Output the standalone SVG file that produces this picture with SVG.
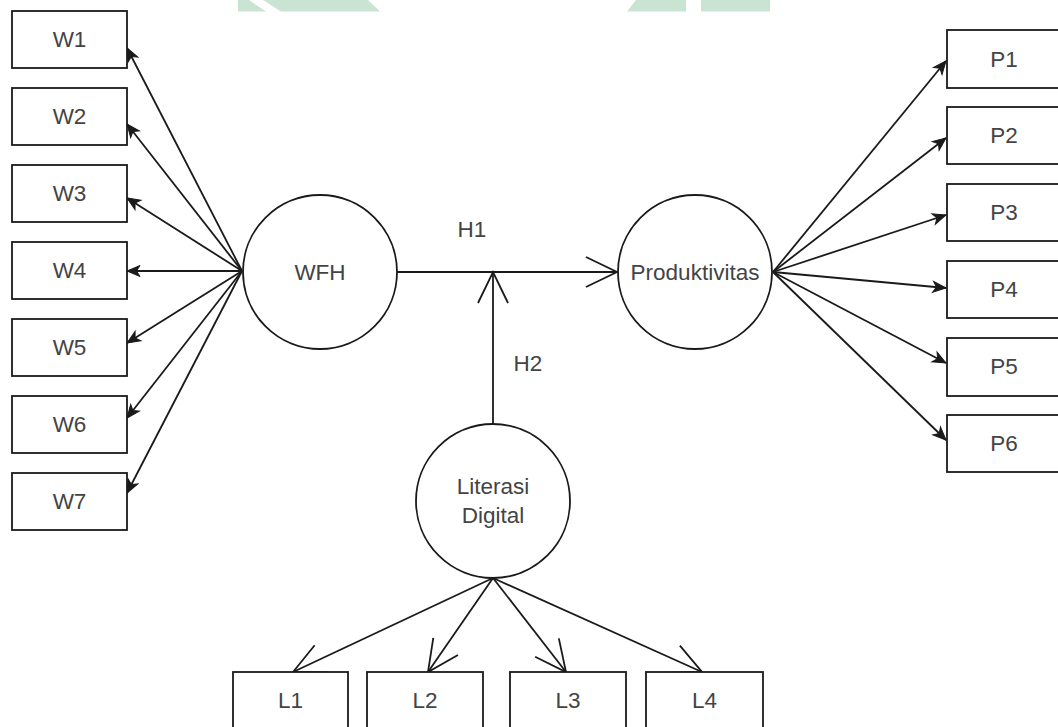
<svg xmlns="http://www.w3.org/2000/svg" width="1058" height="727" viewBox="0 0 1058 727">
  <style>
    .box { fill: #ffffff; stroke: #1a1a1a; stroke-width: 1.8; }
    .circ { fill: #ffffff; stroke: #1a1a1a; stroke-width: 1.8; }
    .lbl { font-family: "Liberation Sans", Arial, sans-serif; font-size: 22.5px; fill: #444444; text-anchor: middle; }
    .edge { stroke: #1a1a1a; stroke-width: 1.8; fill: none; }
    .fill-arrow { marker-end: url(#classic); }
    .open-arrow { marker-end: url(#open); }
    .wm { fill: #c9e4d3; }
  </style>
  <defs>
    <marker id="classic" markerUnits="userSpaceOnUse" orient="auto" refX="0" refY="0" markerWidth="20" markerHeight="20" overflow="visible">
      <path d="M0,0 L-13,-5.5 L-9.5,0 L-13,5.5 Z" fill="#1a1a1a" stroke="#1a1a1a" stroke-width="1"/>
    </marker>
    <marker id="open" markerUnits="userSpaceOnUse" orient="auto" refX="0" refY="0" markerWidth="40" markerHeight="40" overflow="visible">
      <path d="M-31,-15 L0,0 L-31,15" fill="none" stroke="#1a1a1a" stroke-width="1.8"/>
    </marker>
  </defs>

  <rect width="1058" height="727" fill="#ffffff"/>

  <!-- faint watermark remnants at the top edge -->
  <g id="watermark">
    <polygon class="wm" points="238,0 249,0 266,11.5 238,11.5"/>
    <polygon class="wm" points="263,0 368,0 380,11.5 281,11.5"/>
    <polygon class="wm" points="636,0 686,0 686,11.5 627,11.5"/>
    <rect class="wm" x="701" y="0" width="69" height="11.5"/>
  </g>

  <g id="connectors">
    <!-- WFH to W indicators -->
    <line class="edge fill-arrow" x1="242" y1="271" x2="127" y2="48"/>
    <line class="edge fill-arrow" x1="242" y1="271" x2="127" y2="124"/>
    <line class="edge fill-arrow" x1="242" y1="271" x2="127" y2="198"/>
    <line class="edge fill-arrow" x1="242" y1="271" x2="127" y2="271"/>
    <line class="edge fill-arrow" x1="242" y1="271" x2="127" y2="343"/>
    <line class="edge fill-arrow" x1="242" y1="271" x2="127" y2="418"/>
    <line class="edge fill-arrow" x1="242" y1="271" x2="127" y2="493"/>
    <!-- Produktivitas to P indicators -->
    <line class="edge fill-arrow" x1="773" y1="272" x2="946" y2="61"/>
    <line class="edge fill-arrow" x1="773" y1="272" x2="946" y2="138"/>
    <line class="edge fill-arrow" x1="773" y1="272" x2="946" y2="215"/>
    <line class="edge fill-arrow" x1="773" y1="272" x2="946" y2="288"/>
    <line class="edge fill-arrow" x1="773" y1="272" x2="946" y2="363"/>
    <line class="edge fill-arrow" x1="773" y1="272" x2="946" y2="440"/>
    <!-- H1 -->
    <line class="edge open-arrow" x1="397" y1="272" x2="617" y2="272"/>
    <!-- H2 -->
    <line class="edge open-arrow" x1="493" y1="424" x2="493" y2="272"/>
    <!-- Literasi Digital to L indicators -->
    <line class="edge open-arrow" x1="493" y1="578" x2="293" y2="672"/>
    <line class="edge open-arrow" x1="493" y1="578" x2="428" y2="672"/>
    <line class="edge open-arrow" x1="493" y1="578" x2="566" y2="672"/>
    <line class="edge open-arrow" x1="493" y1="578" x2="702" y2="672"/>
    <text class="lbl" x="472" y="237">H1</text>
    <text class="lbl" x="528" y="371">H2</text>
  </g>

  <g id="node-W1"><rect class="box" x="12" y="11" width="115" height="57"/><text class="lbl" x="69.5" y="47">W1</text></g>
  <g id="node-W2"><rect class="box" x="12" y="88" width="115" height="57"/><text class="lbl" x="69.5" y="124">W2</text></g>
  <g id="node-W3"><rect class="box" x="12" y="165" width="115" height="57"/><text class="lbl" x="69.5" y="201">W3</text></g>
  <g id="node-W4"><rect class="box" x="12" y="242" width="115" height="57"/><text class="lbl" x="69.5" y="278">W4</text></g>
  <g id="node-W5"><rect class="box" x="12" y="319" width="115" height="57"/><text class="lbl" x="69.5" y="355">W5</text></g>
  <g id="node-W6"><rect class="box" x="12" y="396" width="115" height="57"/><text class="lbl" x="69.5" y="432">W6</text></g>
  <g id="node-W7"><rect class="box" x="12" y="473" width="115" height="57"/><text class="lbl" x="69.5" y="509">W7</text></g>

  <g id="node-WFH"><circle class="circ" cx="320" cy="272" r="77"/><text class="lbl" x="320" y="280">WFH</text></g>
  <g id="node-Produktivitas"><circle class="circ" cx="695" cy="272" r="77"/><text class="lbl" x="695" y="280">Produktivitas</text></g>
  <g id="node-LiterasiDigital"><circle class="circ" cx="493" cy="501" r="77"/><text class="lbl" x="493" y="494">Literasi</text><text class="lbl" x="493" y="523">Digital</text></g>

  <g id="node-P1"><rect class="box" x="947" y="30" width="115" height="58"/><text class="lbl" x="1004" y="67">P1</text></g>
  <g id="node-P2"><rect class="box" x="947" y="107" width="115" height="57"/><text class="lbl" x="1004" y="143">P2</text></g>
  <g id="node-P3"><rect class="box" x="947" y="184" width="115" height="57"/><text class="lbl" x="1004" y="220">P3</text></g>
  <g id="node-P4"><rect class="box" x="947" y="261" width="115" height="57"/><text class="lbl" x="1004" y="297">P4</text></g>
  <g id="node-P5"><rect class="box" x="947" y="338" width="115" height="58"/><text class="lbl" x="1004" y="374">P5</text></g>
  <g id="node-P6"><rect class="box" x="947" y="415" width="115" height="57"/><text class="lbl" x="1004" y="451">P6</text></g>

  <g id="node-L1"><rect class="box" x="233" y="672" width="115" height="58"/><text class="lbl" x="290.5" y="708">L1</text></g>
  <g id="node-L2"><rect class="box" x="367" y="672" width="116" height="58"/><text class="lbl" x="425" y="708">L2</text></g>
  <g id="node-L3"><rect class="box" x="510" y="672" width="116" height="58"/><text class="lbl" x="568" y="708">L3</text></g>
  <g id="node-L4"><rect class="box" x="646" y="672" width="117" height="58"/><text class="lbl" x="704.5" y="708">L4</text></g>
</svg>
